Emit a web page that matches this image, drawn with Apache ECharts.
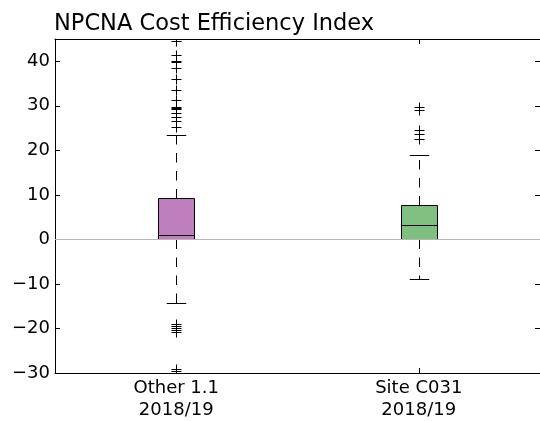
<!DOCTYPE html>
<html>
<head>
<meta charset="utf-8">
<script src="https://cdn.jsdelivr.net/npm/echarts@6/dist/echarts.min.js"></script>
<style>
  html, body { margin: 0; padding: 0; background: #fff; }
  #chart { width: 540px; height: 421px; }
</style>
</head>
<body>
<div id="chart"></div>
<script>
// Groups and reporting period
const sites = ['Other 1.1', 'Site C031'];
const periods = ['2018/19', '2018/19'];

// Box statistics per group
const whiskerLow = [-14.3, -8.8];
const quartile1 = [0.0, 0.0];
const medians = [1.1, 3.3];
const quartile3 = [9.4, 7.8];
const whiskerHigh = [23.5, 18.9];

// Points beyond the whiskers
const outliersOther = [44.5, 41.5, 40.1, 39.9, 38.5, 36.0, 33.6, 31.2, 29.7, 29.4, 29.2,
  28.4, 27.4, 26.5, 25.2, -19.0, -19.5, -20.0, -20.4, -20.8, -29.1, -29.5];
const outliersSite = [29.8, 29.0, 24.6, 23.6, 22.6];

// Y axis ticks
const yTicks = [-30, -20, -10, 0, 10, 20, 30, 40];

const FONT = 'DejaVu Sans';
const boxFill = ['#bf7fbf', '#7fbf7f'];
const BOX_FRAC = 0.15;
const CAP_FRAC = 0.08;

const categories = sites.map((s, i) => s + '\n' + periods[i]);
const boxData = sites.map((s, i) => [i, whiskerLow[i], quartile1[i], medians[i], quartile3[i], whiskerHigh[i]]);
const outlierData = [
  ...outliersOther.map(v => [0, v]),
  ...outliersSite.map(v => [1, v])
];

const crisp = v => Math.round(v) + 0.5;

function renderBox(params, api) {
  const idx = api.value(0);
  const x = crisp(api.coord([idx, 0])[0]);
  const band = api.size([1, 0])[0];
  const half = band * BOX_FRAC / 2;
  const capHalf = band * CAP_FRAC / 2;
  const y = k => crisp(api.coord([idx, api.value(k)])[1]);
  const yLow = y(1), yQ1 = y(2), yMed = y(3), yQ3 = y(4), yHigh = y(5);
  const ink = { stroke: '#000', lineWidth: 1, fill: null };
  const dashed = { stroke: '#000', lineWidth: 1, lineDash: [9.5, 8.5], fill: null };
  const left = crisp(x - half);
  const w = Math.round(half * 2);
  return {
    type: 'group',
    children: [
      { type: 'line', shape: { x1: x, y1: yQ1, x2: x, y2: yLow }, style: dashed },
      { type: 'line', shape: { x1: x, y1: yQ3, x2: x, y2: yHigh }, style: dashed },
      { type: 'line', shape: { x1: x - capHalf, y1: yLow, x2: x + capHalf, y2: yLow }, style: ink },
      { type: 'line', shape: { x1: x - capHalf, y1: yHigh, x2: x + capHalf, y2: yHigh }, style: ink },
      { type: 'rect', shape: { x: left, y: yQ3, width: w, height: yQ1 - yQ3 },
        style: { fill: boxFill[idx], stroke: '#000', lineWidth: 1 } },
      { type: 'line', shape: { x1: left, y1: yMed, x2: left + w, y2: yMed }, style: ink }
    ]
  };
}

function renderOutlier(params, api) {
  const p = api.coord([api.value(0), api.value(1)]);
  const x = crisp(p[0]);
  const yy = crisp(p[1]);
  const r = 5;
  const st = { stroke: '#000', lineWidth: 1, fill: null };
  return {
    type: 'group',
    children: [
      { type: 'line', shape: { x1: x - r, y1: yy, x2: x + r, y2: yy }, style: st },
      { type: 'line', shape: { x1: x, y1: yy - r, x2: x, y2: yy + r }, style: st }
    ]
  };
}

const axisInk = { color: '#000', width: 1 };

const chart = echarts.init(document.getElementById('chart'), null, { renderer: 'canvas' });
chart.setOption({
  animation: false,
  backgroundColor: '#fff',
  title: {
    text: 'NPCNA Cost Efficiency Index',
    left: 54,
    top: 13,
    padding: 0,
    textStyle: { fontFamily: FONT, fontSize: 22.5, fontWeight: 'normal', color: '#000' }
  },
  grid: { left: 55, top: 39, width: 487, height: 334, containLabel: false },
  xAxis: [
    {
      type: 'category',
      data: categories,
      boundaryGap: true,
      position: 'bottom',
      axisLine: { show: true, onZero: false, lineStyle: axisInk },
      axisTick: { show: true, inside: true, alignWithLabel: true, length: 5, lineStyle: axisInk },
      axisLabel: { show: true, interval: 0, color: '#000', fontFamily: FONT, fontSize: 18, lineHeight: 22, margin: 4 },
      splitLine: { show: false }
    },
    {
      type: 'category',
      data: categories,
      boundaryGap: true,
      position: 'top',
      axisLine: { show: true, onZero: false, lineStyle: axisInk },
      axisTick: { show: true, inside: true, alignWithLabel: true, length: 5, lineStyle: axisInk },
      axisLabel: { show: false },
      splitLine: { show: false }
    }
  ],
  yAxis: [
    {
      type: 'value',
      min: -30,
      max: 45,
      interval: 10,
      position: 'left',
      axisLine: { show: true, onZero: false, lineStyle: axisInk },
      axisTick: { show: true, inside: true, length: 5, lineStyle: axisInk },
      axisLabel: {
        show: true,
        showMaxLabel: false,
        color: '#000',
        fontFamily: FONT,
        fontSize: 18,
        margin: 5,
        formatter: v => yTicks.includes(v) ? String(v).replace('-', '\u2212') : ''
      },
      splitLine: { show: false }
    },
    {
      type: 'value',
      min: -30,
      max: 45,
      interval: 10,
      position: 'right',
      axisLine: { show: false, onZero: false },
      axisTick: { show: true, inside: true, length: 5, lineStyle: axisInk },
      axisLabel: { show: false },
      splitLine: { show: false }
    }
  ],
  series: [
    {
      type: 'line',
      data: [],
      z: 1,
      silent: true,
      markLine: {
        silent: true,
        symbol: 'none',
        animation: false,
        label: { show: false },
        lineStyle: { color: '#b8b8b8', width: 1, type: 'solid' },
        data: [{ yAxis: 0 }]
      }
    },
    {
      type: 'custom',
      z: 3,
      clip: true,
      renderItem: renderBox,
      encode: { x: 0, y: [1, 2, 3, 4, 5] },
      data: boxData
    },
    {
      type: 'custom',
      z: 4,
      clip: true,
      renderItem: renderOutlier,
      encode: { x: 0, y: 1 },
      data: outlierData
    }
  ]
});
</script>
</body>
</html>
